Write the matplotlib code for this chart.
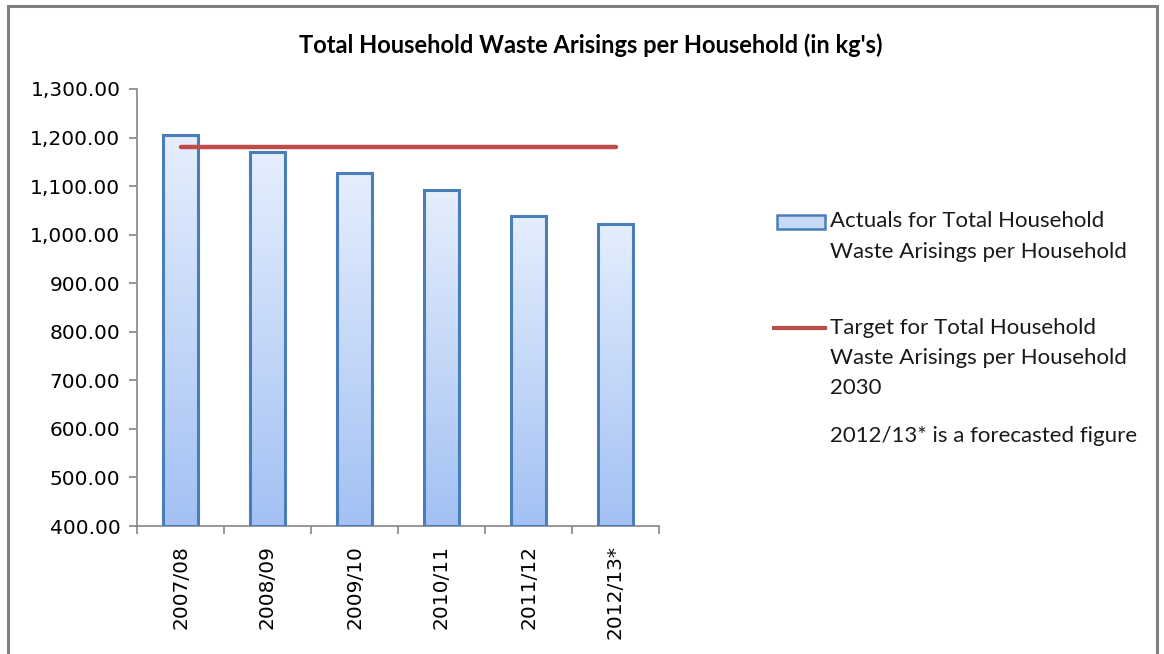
import numpy as np
import matplotlib
matplotlib.use('Agg')
import matplotlib.pyplot as plt
from matplotlib.patches import Rectangle
from matplotlib.lines import Line2D
from matplotlib.colors import LinearSegmentedColormap

years = ['2007/08', '2008/09', '2009/10', '2010/11', '2011/12', '2012/13*']
actuals = [1205, 1171, 1126, 1091, 1039, 1022]
target = 1180
yticks = [400, 500, 600, 700, 800, 900, 1000, 1100, 1200, 1300]

W, H = 1164, 654
fig = plt.figure(figsize=(W / 100, H / 100), dpi=100)

# outer chart frame
fig.patches.append(Rectangle((8 / W, -0.02), (1157 - 8) / W, (H - 6) / H + 0.02,
                             transform=fig.transFigure, fill=False,
                             edgecolor='#808080', linewidth=2.2))

ax = fig.add_axes([137 / W, (H - 526) / H, (659 - 137) / W, (526 - 89) / H])
x = np.arange(len(years))
bw = 0.41

# gradient bars
cmap = LinearSegmentedColormap.from_list('bg', ['#a3c1f4', '#e5eefd'])
grad = np.linspace(0, 1, 256).reshape(-1, 1)
bars = ax.bar(x, [v - 400 for v in actuals], bw, bottom=400,
              facecolor='none', edgecolor='#4a7ebb', linewidth=2.2, zorder=3)
for b in bars:
    im = ax.imshow(grad, cmap=cmap, origin='lower', aspect='auto',
                   extent=[b.get_x(), b.get_x() + b.get_width(), 400, 400 + b.get_height()],
                   zorder=2)
    im.set_clip_path(b)
    # faint shadow
    ax.add_patch(Rectangle((b.get_x() + 0.02, 400), b.get_width(), b.get_height() - 3,
                           facecolor='#d0d0d0', edgecolor='none', alpha=0.5, zorder=1))

ax.plot([0, len(years) - 1], [target, target], color='#be4b48', linewidth=3.2,
        solid_capstyle='round', zorder=4)

ax.set_xlim(-0.5, len(years) - 0.5)
ax.set_ylim(400, 1300)
ax.set_yticks(yticks)
ax.set_yticklabels(['{:,.2f}'.format(v) for v in yticks], fontsize=14.5, family='DejaVu Sans')
ax.set_xticks(x)
ax.set_xticklabels(years, rotation=90, fontsize=14.5, family='DejaVu Sans')
ax.set_xticks(np.arange(-0.5, len(years)), minor=True)
ax.tick_params(axis='x', which='major', length=0, pad=14)
ax.tick_params(axis='x', which='minor', length=6, color='#868686', width=1.2)
ax.tick_params(axis='y', length=6, color='#868686', width=1.2, pad=6)
for s in ['top', 'right']:
    ax.spines[s].set_visible(False)
for s in ['left', 'bottom']:
    ax.spines[s].set_color('#868686')
    ax.spines[s].set_linewidth(1.2)

fig.text(591 / W, 1 - 45 / H, "Total Household Waste Arisings per Household (in kg's)",
         ha='center', va='center', fontsize=17, fontweight='bold', family='Lato')

# legend drawn by hand
fig.patches.append(Rectangle((777 / W, 1 - 229 / H), 48 / W, 14 / H,
                             transform=fig.transFigure, facecolor='#c6d9f7',
                             edgecolor='#4a7ebb', linewidth=1.8))
fig.lines.append(Line2D([774 / W, 825 / W], [1 - 328 / H, 1 - 328 / H],
                        transform=fig.transFigure, color='#be4b48', linewidth=3))
legend_lines = [(221, 'Actuals for Total Household'),
                (252, 'Waste Arisings per Household'),
                (328, 'Target for Total Household'),
                (358, 'Waste Arisings per Household'),
                (388, '2030'),
                (436, '2012/13* is a forecasted figure')]
for yy, t in legend_lines:
    fig.text(830 / W, 1 - yy / H, t, ha='left', va='center', fontsize=16,
             family='Lato', color='#1a1a1a')

fig.savefig('out.png', dpi=100)
